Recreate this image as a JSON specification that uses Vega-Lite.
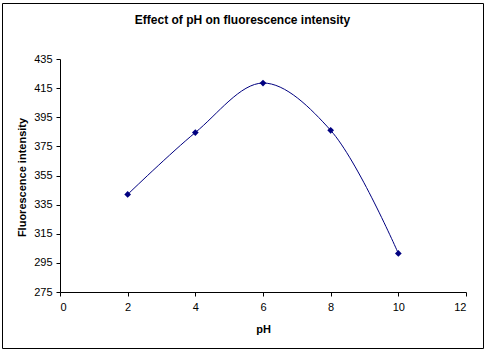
{
  "$schema": "https://vega.github.io/schema/vega-lite/v6.json",
  "width": 481,
  "height": 345,
  "autosize": "none",
  "padding": {"left": 2, "top": 3, "right": 4, "bottom": 5},
  "background": "white",
  "config": {
    "view": {"stroke": "black", "strokeWidth": 1},
    "font": "Liberation Sans"
  },
  "title": {
    "text": "Effect of pH on fluorescence intensity",
    "font": "Liberation Sans",
    "fontSize": 12,
    "fontWeight": "bold",
    "color": "black",
    "anchor": "middle",
    "offset": -24
  },
  "data": {
    "values": [
      {"pH": 2, "intensity": 342},
      {"pH": 4, "intensity": 384.5},
      {"pH": 6, "intensity": 418.5},
      {"pH": 8, "intensity": 386},
      {"pH": 10, "intensity": 301.5}
    ]
  },
  "encoding": {
    "x": {
      "field": "pH",
      "type": "quantitative",
      "scale": {"domain": [0, 12], "range": [58, 464], "nice": false, "zero": false},
      "axis": {
        "title": "pH",
        "values": [0, 2, 4, 6, 8, 10, 12],
        "offset": -56,
        "grid": false,
        "domainColor": "black",
        "tickColor": "black",
        "tickSize": 4,
        "labelPadding": 5,
        "labelFont": "Liberation Sans",
        "labelFontSize": 11,
        "labelColor": "black",
        "titleFont": "Liberation Sans",
        "titleFontSize": 11,
        "titleFontWeight": "bold",
        "titleColor": "black",
        "titleX": 261,
        "titleY": 37,
        "titleBaseline": "middle",
        "titleAlign": "center"
      }
    },
    "y": {
      "field": "intensity",
      "type": "quantitative",
      "scale": {"domain": [275, 435], "range": [289, 56], "nice": false, "zero": false},
      "axis": {
        "title": "Fluorescence intensity",
        "values": [275, 295, 315, 335, 355, 375, 395, 415, 435],
        "offset": -58,
        "grid": false,
        "domainColor": "black",
        "tickColor": "black",
        "tickSize": 4,
        "labelPadding": 4,
        "labelFont": "Liberation Sans",
        "labelFontSize": 11,
        "labelColor": "black",
        "titleFont": "Liberation Sans",
        "titleFontSize": 11,
        "titleFontWeight": "bold",
        "titleColor": "black",
        "titleX": -38,
        "titleY": 174,
        "titleAngle": -90,
        "titleBaseline": "middle",
        "titleAlign": "center"
      }
    }
  },
  "layer": [
    {
      "mark": {"type": "line", "interpolate": "catmull-rom", "color": "#000080", "strokeWidth": 1}
    },
    {
      "mark": {"type": "point", "shape": "diamond", "filled": true, "color": "#000080", "size": 45, "opacity": 1}
    }
  ]
}
